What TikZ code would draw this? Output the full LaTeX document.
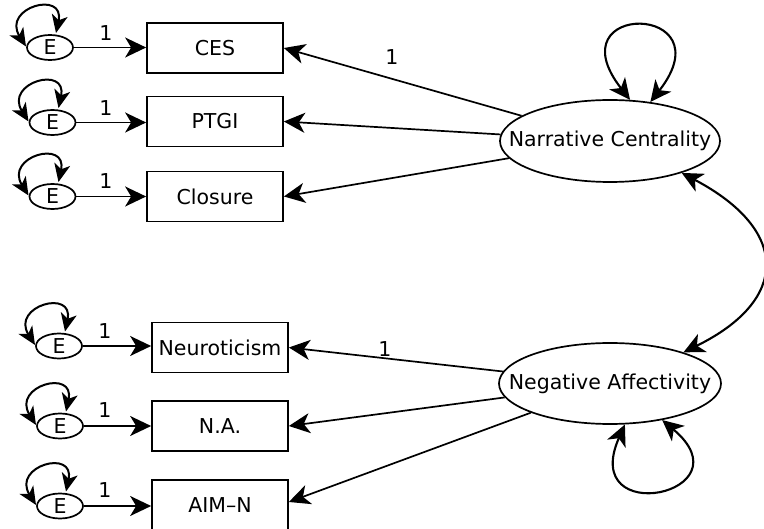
\documentclass[tikz,border=0pt]{standalone}
\usepackage{fontspec}
\setmainfont{DejaVu Sans}
\usetikzlibrary{arrows.meta,shapes.geometric}
\begin{document}
\begin{tikzpicture}[x=1pt,y=1pt,
  every node/.style={font=\fontsize{20.5}{24}\selectfont},
  obs/.style={draw, line width=1.7pt, minimum width=136pt, minimum height=50pt, inner sep=0pt},
  lat/.style={draw, ellipse, line width=1.7pt, inner xsep=-30pt, inner ysep=0pt, fill=white},
  err/.style={draw, ellipse, line width=1.7pt, minimum width=46pt, minimum height=25pt, inner sep=0pt, fill=white},
  arr/.style={-{Stealth[length=21pt,width=20pt,inset=6pt]}, line width=1.7pt},
  darr/.style={{Stealth[length=21pt,width=20pt,inset=6pt]}-{Stealth[length=21pt,width=20pt,inset=6pt]}, line width=2.1pt},
  eloop/.style={{Stealth[length=18pt,width=16pt,inset=5pt]}-{Stealth[length=18pt,width=16pt,inset=5pt]}, line width=2pt},
  lbl/.style={inner sep=0pt}
]
\useasboundingbox (0,0) rectangle (764,-529);

% observed variables
\node[obs] (ces)  at (215,-48)    {CES};
\node[obs] (ptgi) at (215,-121.5) {PTGI};
\node[obs] (clo)  at (215,-196.5) {Closure};
\node[obs] (neu)  at (220,-347.5) {Neuroticism};
\node[obs] (na)   at (220,-426)   {N.A.};
\node[obs] (aim)  at (220,-505)   {AIM–N};

% latent variables
\node[lat, minimum width=220pt, minimum height=82pt] (nc) at (610,-141) {Narrative Centrality};
\node[lat, minimum width=222pt, minimum height=81pt] (nan) at (610,-383.5) {Negative Affectivity};

% error terms
\node[err] (e1) at (50,-47.5)  {E};
\node[err] (e2) at (52.5,-122.5) {E};
\node[err] (e3) at (52.5,-196.5) {E};
\node[err] (e4) at (59,-346)   {E};
\node[err] (e5) at (60,-426)   {E};
\node[err] (e6) at (60,-506)   {E};

% error paths
\foreach \e/\b in {e1/ces,e2/ptgi,e3/clo,e4/neu,e5/na,e6/aim}{
  \draw[arr] (\e) -- (\e -| \b.west);
  \draw[eloop] ([shift={(-24,1)}]\e.center) .. controls +(122:46) and +(78:44) .. ([shift={(6,14.5)}]\e.center);
}

% path labels
\node[lbl] (l1) at (106,-33.5) {1};
\node[lbl] (l2) at (106,-108.5) {1};
\node[lbl] (l3) at (106,-181) {1};
\node[lbl] (l4) at (105,-331) {1};
\node[lbl] (l5) at (105,-410) {1};
\node[lbl] (l6) at (105,-490) {1};
\node[lbl] (l7) at (392,-57) {1};
\node[lbl] (l8) at (385,-349) {1};

% loadings
\draw[arr] (nc) -- (ces.east);
\draw[arr] (nc) -- (ptgi.east);
\draw[arr] (nc) -- (clo.east);
\draw[arr] (nan) -- (neu.east);
\draw[arr] (nan) -- (na.east);
\draw[arr] (nan) -- ([yshift=3pt]aim.east);

% covariance
\draw[darr] (nc.-24) .. controls (790,-230) and (790,-300) .. (nan.23);

% latent variances
\draw[darr] (nc.64) .. controls +(128:126) and +(52:126) .. (nc.44);
\draw[darr] (nan.-70) .. controls +(-114:115) and +(-40:115) .. (nan.-35);
\end{tikzpicture}
\end{document}
